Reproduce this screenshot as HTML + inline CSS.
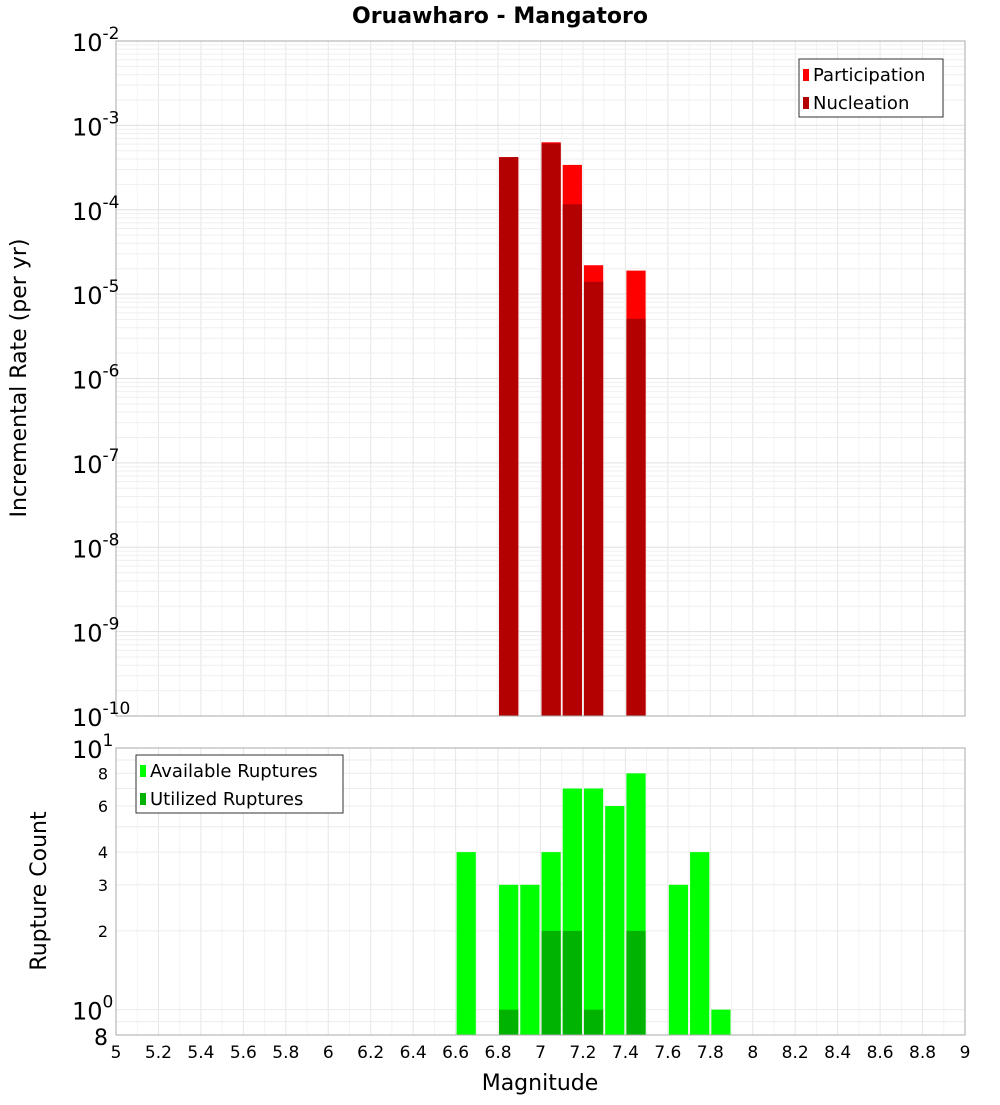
<!DOCTYPE html>
<html><head><meta charset="utf-8"><style>body{margin:0;background:#fff}svg{font-family:"DejaVu Sans","Liberation Sans",sans-serif}</style></head>
<body>
<svg id="c" width="1000" height="1100" xmlns="http://www.w3.org/2000/svg"></svg>
<script>
const magBins=[6.85,7.05,7.15,7.25,7.45];
const participation=[4.2e-4,6.3e-4,3.4e-4,2.2e-5,1.9e-5];
const nucleation=[4.2e-4,6.1e-4,1.16e-4,1.4e-5,5.1e-6];
const countBins=[6.65,6.85,6.95,7.05,7.15,7.25,7.35,7.45,7.65,7.75,7.85];
const available=[4,3,3,4,7,7,6,8,3,4,1];
const utilBins=[6.85,7.05,7.15,7.25,7.45];
const utilized=[1,2,2,1,2];
const xTicks=[5,5.2,5.4,5.6,5.8,6,6.2,6.4,6.6,6.8,7,7.2,7.4,7.6,7.8,8,8.2,8.4,8.6,8.8,9];
const topExp=[-2,-3,-4,-5,-6,-7,-8,-9,-10];
const botTicks=[8,6,4,3,2];

const svg=document.getElementById('c');const NS='http://www.w3.org/2000/svg';
function el(t,a,p){const e=document.createElementNS(NS,t);for(const k in a)e.setAttribute(k,a[k]);(p||svg).appendChild(e);return e;}
const L=116,R=965,T1=41,B1=716,T2=748,B2=1035;
const xs=m=>L+(m-5)/4*(R-L);
const y1=v=>T1+(-2-Math.log10(v))/8*(B1-T1);
const y2=v=>B2-(Math.log10(v)-Math.log10(0.8))/(1-Math.log10(0.8))*(B2-T2);
// grids
const g=el('g',{});
for(let i=0;i<=40;i++){const x=xs(5+i*0.1);el('line',{x1:x,x2:x,y1:T1,y2:B1,stroke:i%2?'#f3f3f3':'#e6e6e6'},g);el('line',{x1:x,x2:x,y1:T2,y2:B2,stroke:i%2?'#f3f3f3':'#e6e6e6'},g);}
for(let d=-10;d<-2;d++)for(let k=1;k<10;k++){const y=y1(k*Math.pow(10,d));el('line',{x1:L,x2:R,y1:y,y2:y,stroke:k==1?'#e0e0e0':'#efefef'},g);}
[0.8,0.9,1,2,3,4,5,6,7,8,9,10].forEach(v=>{const y=y2(v);el('line',{x1:L,x2:R,y1:y,y2:y,stroke:'#ececec'},g);});
const bw=(R-L)/40;
function bar(m,top,bottom,fill,name){const r=el('rect',{x:xs(m)-bw/2+1,y:top,width:bw-2,height:bottom-top,fill:fill});}
magBins.forEach((m,i)=>bar(m,y1(participation[i]),B1,'#ff0000','participation-bar'));
magBins.forEach((m,i)=>bar(m,y1(nucleation[i]),B1,'#b30000','nucleation-bar'));
countBins.forEach((m,i)=>bar(m,y2(available[i]),B2,'#00ff00','available-bar'));
utilBins.forEach((m,i)=>bar(m,y2(utilized[i]),B2,'#00b300','utilized-bar'));
el('rect',{x:L,y:T1,width:R-L,height:B1-T1,fill:'none',stroke:'#aaa'});
el('rect',{x:L,y:T2,width:R-L,height:B2-T2,fill:'none',stroke:'#aaa'});
function txt(x,y,s,a){const t=el('text',Object.assign({x:x,y:y},a));t.textContent=s;return t;}
let t=txt(500,23,'Oruawharo - Mangatoro',{'font-size':22,'font-weight':'bold','text-anchor':'middle'});
topExp.forEach(e=>{const y=y1(Math.pow(10,e));const tt=el('text',{x:72,y:y+10,'font-size':24});tt.innerHTML='10<tspan dy="-12" font-size="17">'+e+'</tspan>';});
botTicks.forEach(v=>{const tt=txt(108,y2(v)+6,String(v),{'font-size':16,'text-anchor':'end'});});
[[10,1],[1,0]].forEach(([v,e])=>{const tt=el('text',{x:72,y:y2(v)+10,'font-size':24});tt.innerHTML='10<tspan dy="-12" font-size="17">'+e+'</tspan>';});
t=txt(108,y2(0.8)+10,'8',{'font-size':22,'text-anchor':'end'});
xTicks.forEach(v=>{const tt=txt(xs(v),1058,String(v),{'font-size':17,'text-anchor':'middle'});});
t=txt(540,1090,'Magnitude',{'font-size':22,'text-anchor':'middle'});
t=txt(0,0,'Incremental Rate (per yr)',{'font-size':22,'text-anchor':'middle',transform:'translate(26,378) rotate(-90)'});
t=txt(0,0,'Rupture Count',{'font-size':22,'text-anchor':'middle',transform:'translate(46,891) rotate(-90)'});
function legend(x,y,w,items,name){const lg=el('g',{});el('rect',{x:x,y:y,width:w,height:58,fill:'#fff',stroke:'#333'},lg);items.forEach(([c,s],i)=>{el('rect',{x:x+4,y:y+10+i*28,width:6,height:12,fill:c},lg);const tt=el('text',{x:x+14,y:y+22+i*28,'font-size':18},lg);tt.textContent=s;});}
legend(799,59,144,[['#ff0000','Participation'],['#b30000','Nucleation']],'legend-rate');
legend(136,755,207,[['#00ff00','Available Ruptures'],['#00b300','Utilized Ruptures']],'legend-count');
</script>
</body></html>
